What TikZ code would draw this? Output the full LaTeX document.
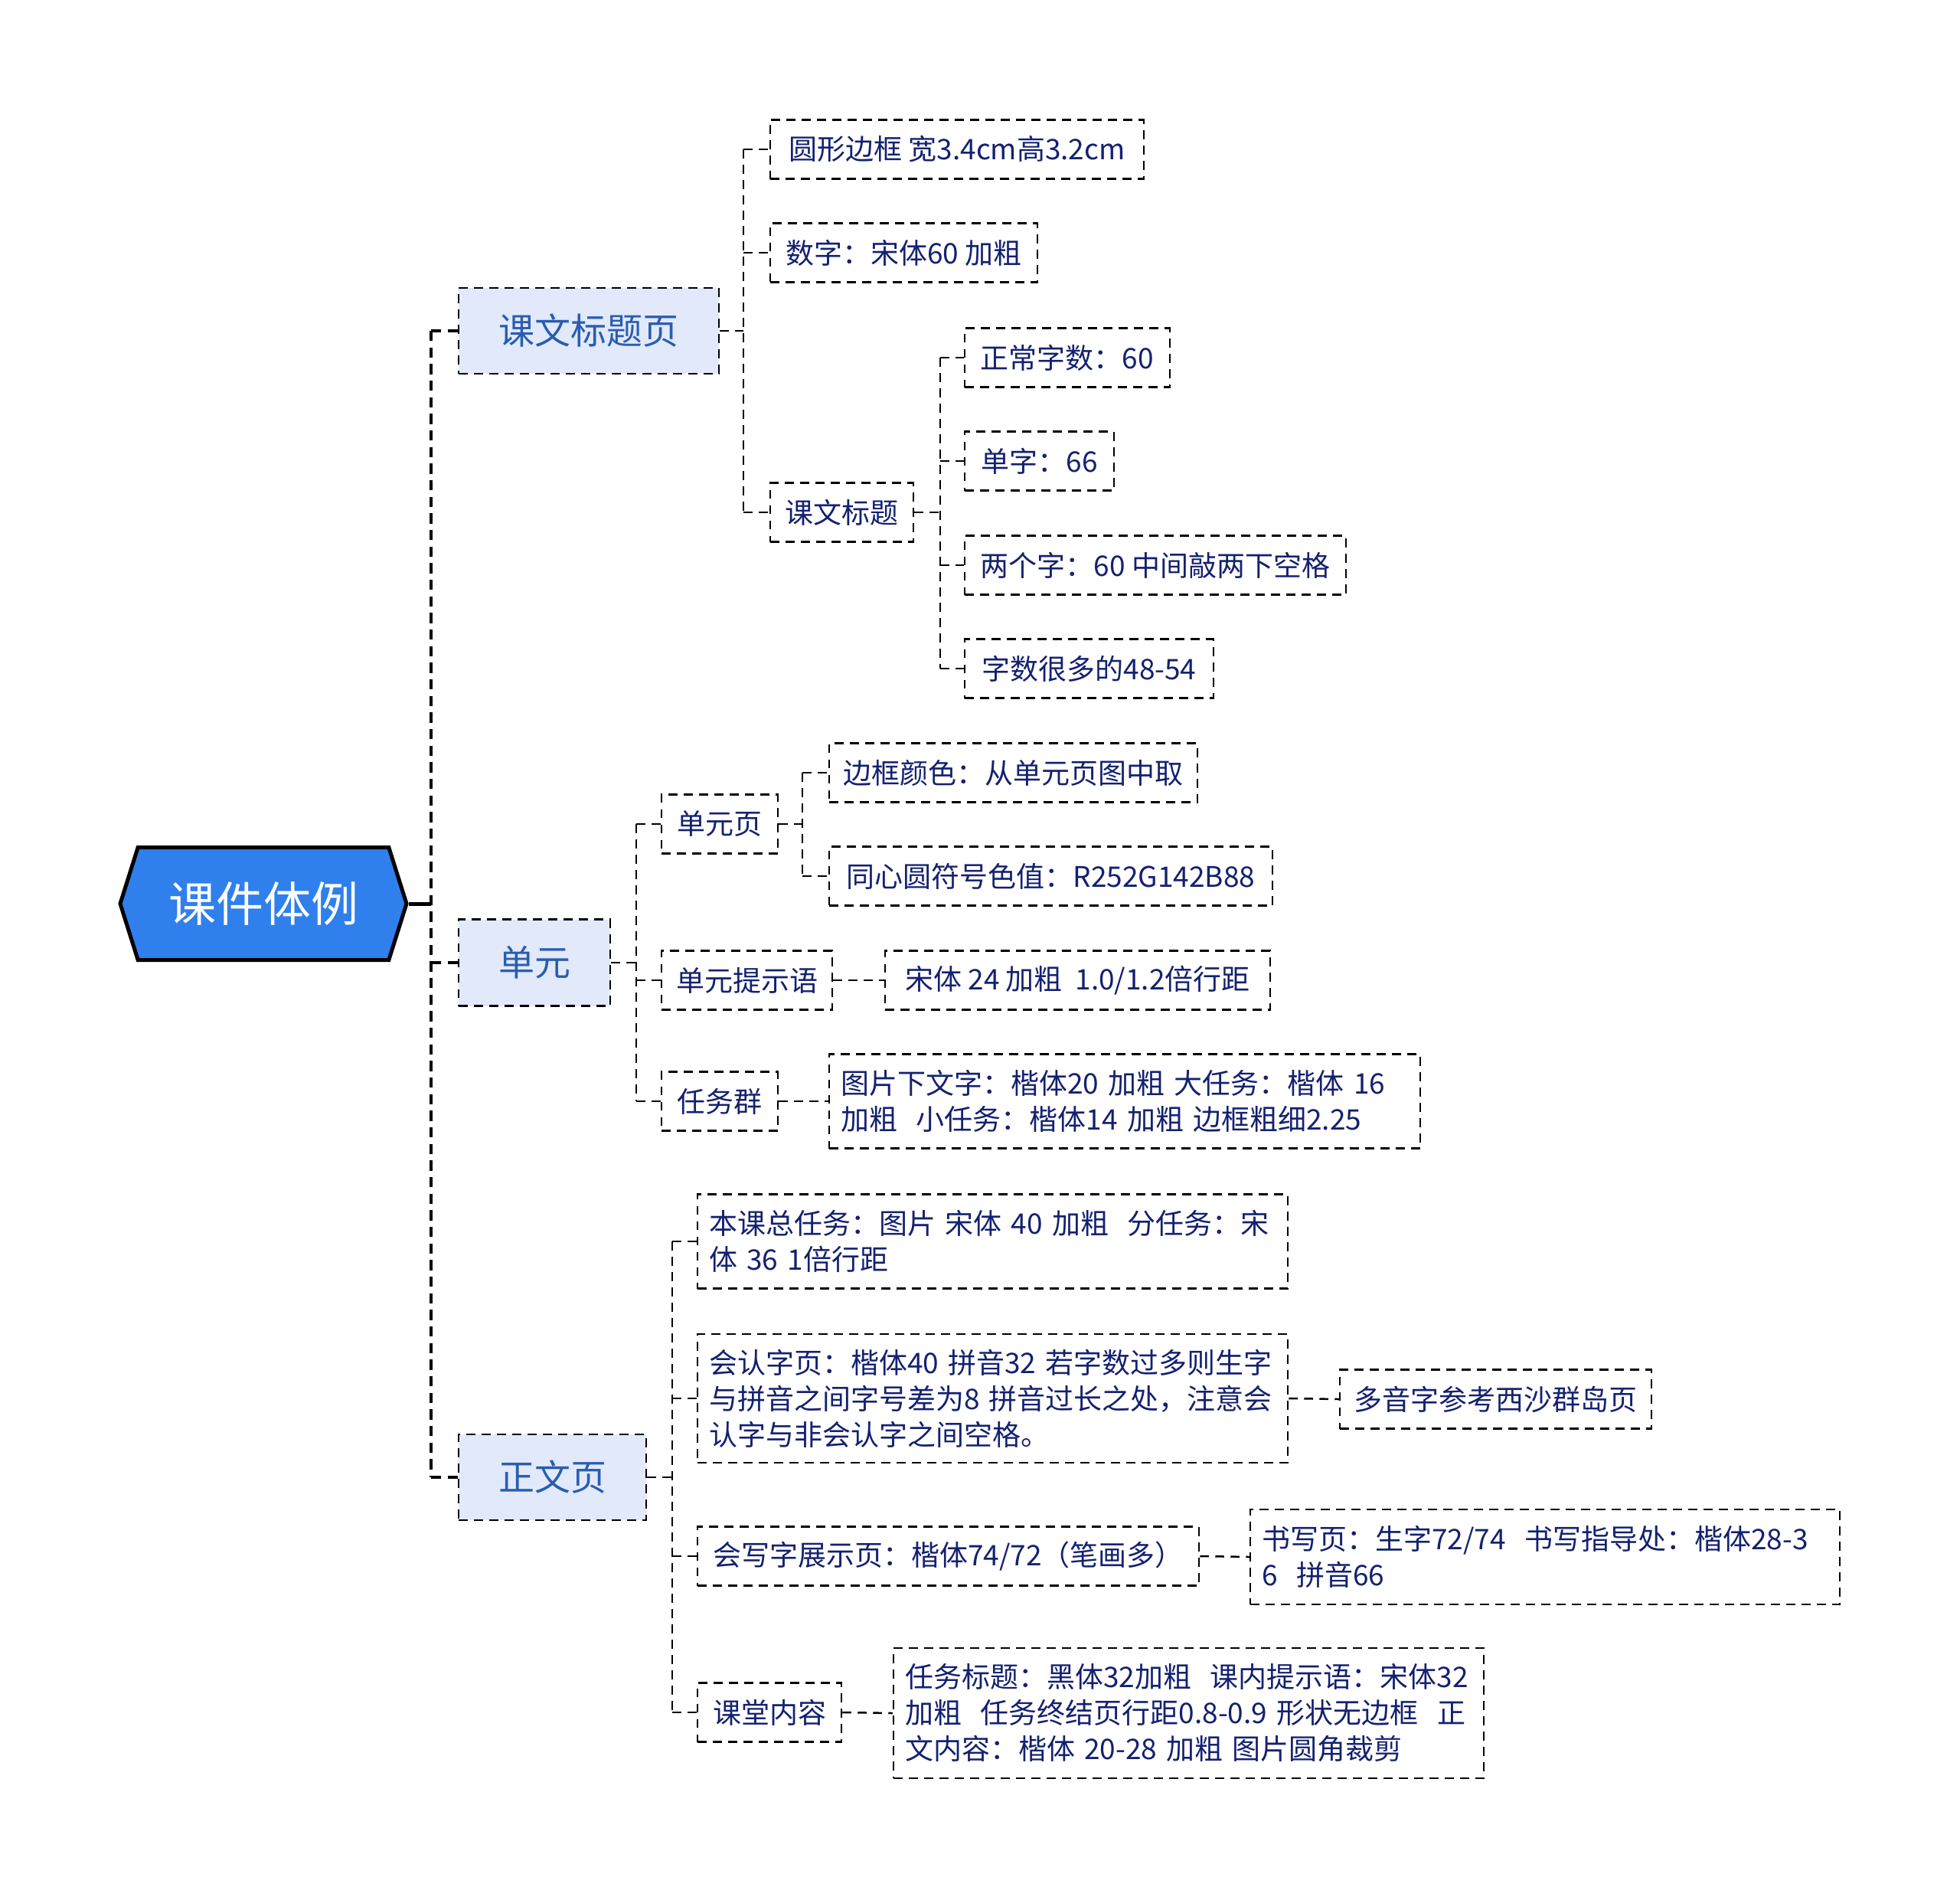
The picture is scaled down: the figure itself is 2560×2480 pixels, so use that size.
\documentclass[tikz,border=0pt]{standalone}
\usepackage{fontspec}
\setmainfont{Noto Sans CJK SC}
\usetikzlibrary{shapes.symbols}
\definecolor{rootblue}{HTML}{2F80ED}
\definecolor{lonefill}{HTML}{E1E9FB}
\definecolor{lonetext}{HTML}{2A5DB0}
\definecolor{leaftext}{HTML}{142170}
\begin{document}
\begin{tikzpicture}[x=0.3pt,y=-0.3pt,
  sz/.style 2 args={minimum width=#1*0.3pt,minimum height=#2*0.3pt},
  ml/.style={text width=#1*0.3pt-9pt},
  rootbox/.style={shape=signal,signal to=east and west,signal pointer angle=145,
    draw=black,line width=1.5pt,fill=rootblue,text=white,inner sep=0pt,
    font=\fontsize{18.6}{22}\selectfont},
  lonebox/.style={draw=black,line width=0.75pt,dash pattern=on 3.5pt off 2.5pt,fill=lonefill,
    text=lonetext,inner sep=0pt,font=\fontsize{14.1}{17}\selectfont},
  leafbox/.style={draw=black,line width=0.75pt,dash pattern=on 3.5pt off 2.5pt,
    text=leaftext,inner xsep=4.5pt,inner ysep=0pt,align=left,font=\fontsize{11.1}{14.1}\selectfont},
  rootline/.style={draw=black,line width=1.5pt},
  mainconn/.style={draw=black,line width=1.2pt,dash pattern=on 4pt off 2.5pt},
  conn/.style={draw=black,line width=0.75pt,dash pattern=on 3.5pt off 2.5pt}
]
\useasboundingbox (0,0) rectangle (2560,2480);

% root
\node[rootbox,sz={374}{147}] (root) at (344,1180) {课件体例};

% level 1
\node[lonebox,sz={340}{112}] (kwbt) at (769,432) {课文标题页};
\node[lonebox,sz={198}{113}] (dy) at (698,1257) {单元};
\node[lonebox,sz={245}{112}] (zwy) at (721.5,1929) {正文页};

% under 课文标题页
\node[leafbox,sz={488}{77}] (a1) at (1250,195) {圆形边框 宽3.4cm高3.2cm};
\node[leafbox,sz={349}{77}] (a2) at (1180.5,330) {数字：宋体60 加粗};
\node[leafbox,sz={187}{77}] (a3) at (1099.5,669) {课文标题};

% under 课文标题
\node[leafbox,sz={268}{77}] (b1) at (1394,467) {正常字数：60};
\node[leafbox,sz={195}{77}] (b2) at (1357.5,602) {单字：66};
\node[leafbox,sz={498}{77}] (b3) at (1509,738) {两个字：60 中间敲两下空格};
\node[leafbox,sz={325}{77}] (b4) at (1422.5,873) {字数很多的48-54};

% under 单元
\node[leafbox,sz={152}{77}] (c1) at (940,1076) {单元页};
\node[leafbox,sz={223}{77}] (c2) at (975.5,1280) {单元提示语};
\node[leafbox,sz={152}{77}] (c3) at (940,1438) {任务群};

\node[leafbox,sz={481}{77}] (d1) at (1323.5,1009) {边框颜色：从单元页图中取};
\node[leafbox,sz={579}{77}] (d2) at (1372.5,1144) {同心圆符号色值：R252G142B88};
\node[leafbox,sz={503}{77}] (e1) at (1407.5,1280) {宋体 24 加粗\ \ 1.0/1.2倍行距};
\node[leafbox,sz={772}{123},ml=772] (f1) at (1469,1438) {图片下文字：楷体20 加粗 大任务：楷体 16\\加粗\ \ 小任务：楷体14 加粗 边框粗细2.25};

% under 正文页
\node[leafbox,sz={771}{123},ml=771] (g1) at (1296.5,1621) {本课总任务：图片 宋体 40 加粗\ \ 分任务：宋\\体 36 1倍行距};
\node[leafbox,sz={771}{168},ml=771] (g2) at (1296.5,1826) {会认字页：楷体40 拼音32 若字数过多则生字\\与拼音之间字号差为8 拼音过长之处，注意会\\认字与非会认字之间空格。};
\node[leafbox,sz={655}{77}] (g3) at (1238.5,2032) {会写字展示页：楷体74/72（笔画多）};
\node[leafbox,sz={188}{77}] (g4) at (1005,2236) {课堂内容};

\node[leafbox,sz={407}{77}] (h1) at (1953.5,1827) {多音字参考西沙群岛页};
\node[leafbox,sz={770}{124},ml=770] (h2) at (2018,2033) {书写页：生字72/74\ \ 书写指导处：楷体28-3\\6\ \ 拼音66};
\node[leafbox,sz={771}{170},ml=771] (h3) at (1552.5,2237) {任务标题：黑体32加粗\ \ 课内提示语：宋体32\\加粗\ \ 任务终结页行距0.8-0.9 形状无边框\ \ 正\\文内容：楷体 20-28 加粗 图片圆角裁剪};

% trunk coordinates
\coordinate (T0) at (563,1180);
\coordinate (T1) at (971,432);
\coordinate (T2) at (1228,669);
\coordinate (T3) at (831,1257);
\coordinate (T4) at (1048,1076);
\coordinate (T5) at (878,1929);

% root connector
\draw[rootline] (root.east) -- (T0);
\draw[mainconn] (T0 |- kwbt.west) -- (T0 |- zwy.west);
\draw[mainconn] (T0 |- kwbt.west) -- (kwbt.west);
\draw[mainconn] (T0 |- dy.west) -- (dy.west);
\draw[mainconn] (T0 |- zwy.west) -- (zwy.west);

% 课文标题页
\draw[conn] (kwbt.east) -- (T1);
\draw[conn] (T1 |- a1.west) -- (T1 |- a3.west);
\foreach \n in {a1,a2,a3} \draw[conn] (T1 |- \n.west) -- (\n.west);

% 课文标题
\draw[conn] (a3.east) -- (T2);
\draw[conn] (T2 |- b1.west) -- (T2 |- b4.west);
\foreach \n in {b1,b2,b3,b4} \draw[conn] (T2 |- \n.west) -- (\n.west);

% 单元
\draw[conn] (dy.east) -- (T3);
\draw[conn] (T3 |- c1.west) -- (T3 |- c3.west);
\foreach \n in {c1,c2,c3} \draw[conn] (T3 |- \n.west) -- (\n.west);

% 单元页
\draw[conn] (c1.east) -- (T4);
\draw[conn] (T4 |- d1.west) -- (T4 |- d2.west);
\foreach \n in {d1,d2} \draw[conn] (T4 |- \n.west) -- (\n.west);

\draw[conn] (c2.east) -- (e1.west);
\draw[conn] (c3.east) -- (f1.west);

% 正文页
\draw[conn] (zwy.east) -- (T5);
\draw[conn] (T5 |- g1.west) -- (T5 |- g4.west);
\foreach \n in {g1,g2,g3,g4} \draw[conn] (T5 |- \n.west) -- (\n.west);

\draw[conn] (g2.east) -- (h1.west);
\draw[conn] (g3.east) -- (h2.west);
\draw[conn] (g4.east) -- (h3.west);
\end{tikzpicture}
\end{document}
